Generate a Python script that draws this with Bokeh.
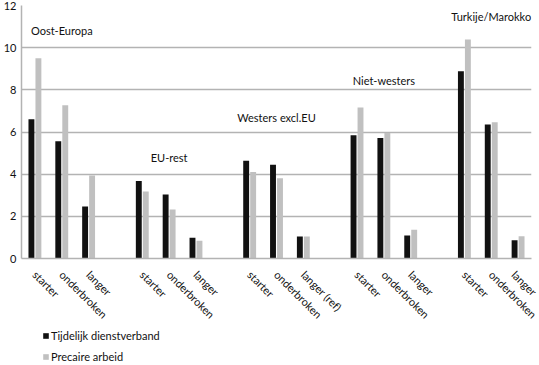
import math
from bokeh.plotting import figure
from bokeh.layouts import column
from bokeh.models import ColumnDataSource, FixedTicker, Legend, LegendItem, Label, Range1d
from bokeh.embed import file_html
from bokeh.resources import INLINE

# ---- data ----
groups = ["Oost-Europa", "EU-rest", "Westers excl.EU", "Niet-westers", "Turkije/Marokko"]
subcats = [
    ["starter", "onderbroken", "langer"],
    ["starter", "onderbroken", "langer"],
    ["starter", "onderbroken", "langer (ref)"],
    ["starter", "onderbroken", "langer"],
    ["starter", "onderbroken", "langer"],
]
tijdelijk = [6.6, 5.56, 2.47, 3.68, 3.04, 0.98, 4.64, 4.45, 1.04, 5.84, 5.72, 1.09, 8.88, 6.35, 0.86]
precair = [9.5, 7.27, 3.94, 3.18, 2.32, 0.84, 4.1, 3.81, 1.04, 7.16, 5.95, 1.36, 10.39, 6.46, 1.05]
group_label_y = [10.83, 4.78, 6.71, 8.42, 11.5]
y_ticks = [0, 2, 4, 6, 8, 10, 12]
series_names = ["Tijdelijk dienstverband", "Precaire arbeid"]

FONT = "Lato"
BLACK = "#111111"
GRAY = "#c0c0c0"
GRID = "#b3b3b3"

# slot positions (one empty slot between groups)
xs, labels = [], []
for g, subs in enumerate(subcats):
    for i, s in enumerate(subs):
        xs.append(g * 4 + i)
        labels.append(s)

off = 0.13
w = 0.22
src = ColumnDataSource(dict(
    x1=[x - off for x in xs], x2=[x + off for x in xs],
    t=tijdelijk, p=precair))

p = figure(width=539, height=329, x_range=(-0.5, 18.5), y_range=(0, 12),
           output_backend="svg", toolbar_location=None,
           min_border_left=20, min_border_right=8, min_border_top=5, min_border_bottom=71)
p.outline_line_color = None
p.background_fill_color = "white"
p.border_fill_color = "white"

r1 = p.vbar(x="x1", top="t", width=w, source=src, fill_color=BLACK, line_color=None)
r2 = p.vbar(x="x2", top="p", width=w, source=src, fill_color=GRAY, line_color=None)

p.xgrid.visible = False
p.ygrid.grid_line_color = GRID
p.ygrid.grid_line_width = 1.5

ya = p.yaxis[0]
ya.ticker = FixedTicker(ticks=y_ticks)
ya.major_tick_line_color = None
ya.minor_tick_line_color = None
ya.major_tick_out = 0
ya.major_tick_in = 0
ya.minor_tick_out = 0
ya.axis_line_color = GRID
ya.axis_line_width = 1.5
ya.major_label_text_font = FONT
ya.major_label_text_font_size = "11px"
ya.major_label_text_color = BLACK
ya.major_label_standoff = 5

xa = p.xaxis[0]
xa.ticker = FixedTicker(ticks=xs)
xa.major_label_overrides = {x: l for x, l in zip(xs, labels)}
xa.major_label_orientation = -math.pi / 4
xa.major_tick_line_color = None
xa.minor_tick_line_color = None
xa.axis_line_color = GRID
xa.axis_line_width = 1.5
xa.major_label_text_font = FONT
xa.major_label_text_font_size = "11px"
xa.major_label_text_color = BLACK
xa.major_label_standoff = 8

for g, name in enumerate(groups):
    p.add_layout(Label(x=g * 4 + 1, y=group_label_y[g], text=name,
                       text_align="center", text_baseline="middle",
                       text_font=FONT, text_font_size="11px", text_color=BLACK))

# legend in a small figure below (zero-height proxy bars carry the legend glyphs)
p2 = figure(width=539, height=36, output_backend="svg", toolbar_location=None,
            x_range=Range1d(0, 1), y_range=Range1d(0, 1),
            min_border_left=0, min_border_right=0, min_border_top=0, min_border_bottom=0,
            x_axis_type=None, y_axis_type=None)
p2.outline_line_color = None
p2.xgrid.visible = False
p2.ygrid.visible = False
l1 = p2.vbar(x=[-5], top=[0], width=w, fill_color=BLACK, line_color=None)
l2 = p2.vbar(x=[-5], top=[0], width=w, fill_color=GRAY, line_color=None)
legend = Legend(items=[LegendItem(label=series_names[0], renderers=[l1]),
                       LegendItem(label=series_names[1], renderers=[l2])],
                location=(21, 2), orientation="vertical")
legend.border_line_color = None
legend.background_fill_alpha = 0
legend.label_text_font = FONT
legend.label_text_font_size = "11px"
legend.label_text_color = BLACK
legend.glyph_width = 7
legend.glyph_height = 7
legend.label_height = 11
legend.label_standoff = 2
legend.spacing = 8
legend.padding = 0
legend.margin = 0
p2.add_layout(legend, "center")

layout = column(p, p2, spacing=0)
open("out.html", "w").write(file_html(layout, INLINE))
